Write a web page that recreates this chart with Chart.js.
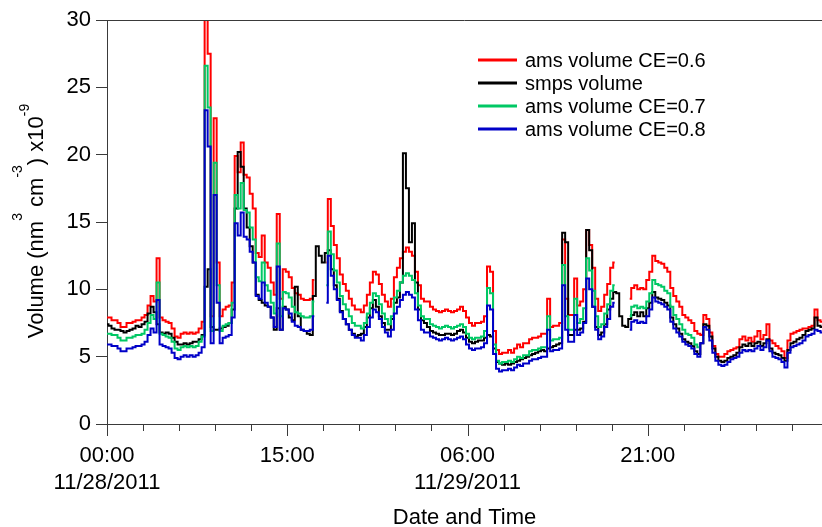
<!DOCTYPE html>
<html>
<head>
<meta charset="utf-8">
<script src="https://cdn.jsdelivr.net/npm/chart.js@4.4.1/dist/chart.umd.min.js"></script>
<style>
  html, body { margin: 0; padding: 0; background: #ffffff; }
  canvas { display: block; }
</style>
</head>
<body>
<canvas id="chart" width="822" height="527"></canvas>
<script>
// Hours since 11/28/2011 00:00 (15-minute samples)
const hours = [
  0,0.25,0.5,0.75,1,1.25,1.5,1.75,2,2.25,2.5,2.75,
  3,3.25,3.5,3.75,4,4.25,4.5,4.75,5,5.25,5.5,5.75,
  6,6.25,6.5,6.75,7,7.25,7.5,7.75,8,8.25,8.5,8.75,
  9,9.25,9.5,9.75,10,10.25,10.5,10.75,11,11.25,11.5,11.75,
  12,12.25,12.5,12.75,13,13.25,13.5,13.75,14,14.25,14.5,14.75,
  15,15.25,15.5,15.75,16,16.25,16.5,16.75,17,17.25,17.5,17.75,
  18,18.25,18.5,18.75,19,19.25,19.5,19.75,20,20.25,20.5,20.75,
  21,21.25,21.5,21.75,22,22.25,22.5,22.75,23,23.25,23.5,23.75,
  24,24.25,24.5,24.75,25,25.25,25.5,25.75,26,26.25,26.5,26.75,
  27,27.25,27.5,27.75,28,28.25,28.5,28.75,29,29.25,29.5,29.75,
  30,30.25,30.5,30.75,31,31.25,31.5,31.75,32,32.25,32.5,32.75,
  33,33.25,33.5,33.75,34,34.25,34.5,34.75,35,35.25,35.5,35.75,
  36,36.25,36.5,36.75,37,37.25,37.5,37.75,38,38.25,38.5,38.75,
  39,39.25,39.5,39.75,40,40.25,40.5,40.75,41,41.25,41.5,41.75,
  42,42.25,42.5,42.75,43,43.25,43.5,43.75,44,44.25,44.5,44.75,
  45,45.25,45.5,45.75,46,46.25,46.5,46.75,47,47.25,47.5,47.75,
  48,48.25,48.5,48.75,49,49.25,49.5,49.75,50,50.25,50.5,50.75,
  51,51.25,51.5,51.75,52,52.25,52.5,52.75,53,53.25,53.5,53.75,
  54,54.25,54.5,54.75,55,55.25,55.5,55.75,56,56.25,56.5,56.75,
  57,57.25,57.5,57.75,58,58.25,58.5,58.75,59,59.25,59.5
];

// AMS volume, collection efficiency 0.6
const amsCE06 = [
  7.9,7.9,7.7,7.7,7.5,7.2,7.2,7.5,7.5,7.6,7.7,7.7,
  7.9,8.1,8.8,9.5,9.1,12.3,7.9,7.7,7.6,7.5,7.1,6.5,
  6.4,6.7,6.8,6.7,6.8,6.7,6.8,7.1,7.6,31.1,27.5,8.0,
  22.7,12.0,8.0,8.5,8.7,8.8,10.5,19.9,18.7,20.9,18.5,18.3,
  17.1,16.0,12.7,12.4,14.0,12.0,11.6,10.5,9.6,15.6,9.3,11.5,
  11.3,10.9,10.1,9.7,9.6,9.3,9.2,9.2,9.3,10.7,null,null,
  null,12.0,16.7,14.7,13.3,12.3,11.1,10.4,9.9,9.3,8.8,8.5,
  8.5,8.3,8.8,9.6,10.5,11.3,11.1,10.4,9.6,9.1,8.7,9.3,
  10.9,11.6,12.3,12.8,13.1,12.8,12.5,11.3,10.3,9.3,9.1,9.1,
  8.7,8.5,8.4,8.3,8.4,8.5,8.4,8.3,8.4,8.5,8.7,8.4,
  7.9,7.5,7.3,7.5,7.5,7.6,8.0,11.7,11.3,6.9,5.5,5.2,
  5.3,5.3,5.5,5.3,5.6,5.9,5.7,6.0,6.0,6.3,6.4,6.4,
  6.5,6.7,6.7,9.3,7.2,7.3,7.3,7.5,13.7,9.3,8.1,8.1,
  10.8,8.8,9.1,10.0,14.4,13.3,11.6,9.3,8.4,8.7,9.6,10.4,
  11.6,12.0,null,null,null,null,9.3,10.1,10.3,10.0,10.1,10.0,
  10.7,11.3,12.5,12.1,12.0,11.9,11.6,11.3,10.1,9.5,9.1,8.7,
  8.1,7.9,7.7,7.5,6.9,6.7,6.6,8.1,7.8,6.8,5.8,5.2,
  5.0,5.0,5.2,5.4,5.5,5.6,5.7,6.3,6.5,6.2,6.4,6.1,
  6.5,6.9,6.3,6.6,7.4,6.2,6.0,5.8,5.6,5.4,4.9,6.2,
  6.7,6.8,6.9,7.0,7.1,7.1,7.2,7.3,8.5,7.7,7.6
];

// SMPS volume
const smps = [
  7.4,7.3,7.1,7.0,7.0,6.9,6.8,6.9,7.0,7.1,7.3,7.2,
  7.4,7.6,8.2,8.7,8.3,7.4,6.8,6.7,6.8,6.7,6.4,6.1,
  5.9,5.9,6.0,5.9,6.0,6.1,6.1,6.3,6.6,10.2,11.5,7.2,
  7.0,7.0,7.1,7.2,7.3,7.5,8.5,16.0,20.2,19.1,16.0,14.6,
  13.2,12.0,9.6,9.2,9.0,8.8,8.7,7.9,7.0,8.6,7.0,8.7,
  8.5,7.9,7.7,10.2,8.0,7.0,6.9,6.7,6.6,9.5,13.2,12.5,
  12.0,12.7,12.9,11.5,10.3,9.3,8.4,7.8,7.4,7.0,6.7,6.5,
  6.6,6.7,7.2,7.9,8.6,9.2,8.7,8.0,7.5,7.0,7.0,7.8,
  9.0,9.4,10.5,20.1,17.5,13.5,14.9,10.5,8.5,7.7,7.5,7.2,
  6.9,6.8,6.7,6.6,6.6,6.7,6.7,6.6,6.7,6.9,7.0,6.8,
  6.4,6.1,6.0,6.1,6.2,6.2,6.4,6.6,6.5,5.6,4.6,4.5,
  4.4,4.5,4.4,4.5,4.6,4.7,4.8,4.9,5.0,5.1,5.2,5.3,
  5.4,5.5,5.4,5.6,5.7,5.8,5.9,6.0,14.2,13.5,6.6,6.6,
  7.0,7.0,7.1,7.6,14.4,12.9,8.7,7.2,6.6,6.8,7.4,8.5,
  9.3,9.8,9.7,8.0,7.3,7.2,7.8,8.1,8.3,8.0,8.3,8.0,
  8.6,9.0,9.8,9.4,9.3,9.2,9.0,8.8,7.9,7.4,7.1,6.7,
  6.3,6.1,6.0,5.8,5.4,5.2,6.0,7.4,7.3,6.5,5.6,5.0,
  4.7,4.6,4.7,4.9,5.0,5.1,5.3,5.7,5.9,5.8,6.0,5.8,
  6.0,6.1,5.8,6.0,6.3,5.6,5.3,5.2,5.1,4.9,4.7,5.5,
  6.0,6.1,6.3,6.4,6.6,6.9,7.0,7.1,7.9,7.3,7.2
];

// AMS volume, collection efficiency 0.7
const amsCE07 = [
  6.7,6.7,6.6,6.6,6.4,6.2,6.2,6.4,6.4,6.5,6.6,6.6,
  6.7,7.0,7.5,8.1,7.8,10.5,6.7,6.6,6.5,6.4,6.1,5.6,
  5.5,5.7,5.8,5.7,5.8,5.7,5.8,6.1,6.5,26.6,23.5,6.9,
  19.4,10.3,6.9,7.3,7.4,7.5,9.0,17.0,16.0,17.9,15.9,15.7,
  14.6,13.7,10.9,10.6,12.0,10.3,9.9,9.0,8.2,13.4,8.0,9.8,
  9.7,9.4,8.7,8.3,8.2,8.0,7.9,7.9,8.0,9.1,null,null,
  null,10.3,14.3,12.6,11.4,10.5,9.5,8.9,8.5,8.0,7.5,7.3,
  7.3,7.1,7.5,8.2,9.0,9.7,9.5,8.9,8.2,7.8,7.4,8.0,
  9.4,9.9,10.5,11.0,11.2,11.0,10.7,9.7,8.8,8.0,7.8,7.8,
  7.4,7.3,7.2,7.1,7.2,7.3,7.2,7.1,7.2,7.3,7.4,7.2,
  6.7,6.4,6.3,6.4,6.4,6.5,6.9,10.1,9.7,5.9,4.7,4.5,
  4.6,4.6,4.7,4.6,4.8,5.0,4.9,5.1,5.1,5.4,5.5,5.5,
  5.6,5.7,5.7,8.0,6.2,6.3,6.3,6.4,11.8,8.0,7.0,7.0,
  9.3,7.5,7.8,8.6,12.3,11.4,9.9,8.0,7.2,7.4,8.2,8.9,
  9.9,10.3,null,null,null,null,8.0,8.7,8.8,8.6,8.7,8.6,
  9.1,9.7,10.7,10.4,10.3,10.2,9.9,9.7,8.7,8.1,7.8,7.4,
  7.0,6.7,6.6,6.4,5.9,5.7,null,null,null,null,null,null,
  null,null,null,null,null,null,null,null,null,null,null,null,
  null,null,null,null,null,null,null,null,null,null,null,null,
  null,null,null,null,null,null,null,null,null,null,null
];

// AMS volume, collection efficiency 0.8
const amsCE08 = [
  5.9,5.9,5.8,5.8,5.6,5.4,5.4,5.6,5.6,5.7,5.8,5.8,
  5.9,6.1,6.6,7.1,6.8,9.2,5.9,5.8,5.7,5.6,5.3,4.9,
  4.8,5.0,5.1,5.0,5.1,5.0,5.1,5.3,5.7,23.3,20.6,6.0,
  17.0,9.0,6.0,6.4,6.5,6.6,7.9,14.9,14.0,15.7,13.9,13.7,
  12.8,12.0,9.5,9.3,10.5,9.0,8.7,7.9,7.2,11.7,7.0,8.6,
  8.5,8.2,7.6,7.3,7.2,7.0,6.9,6.9,7.0,8.0,null,null,
  null,9.0,12.5,11.0,10.0,9.2,8.3,7.8,7.4,7.0,6.6,6.4,
  6.4,6.2,6.6,7.2,7.9,8.5,8.3,7.8,7.2,6.8,6.5,7.0,
  8.2,8.7,9.2,9.6,9.8,9.6,9.4,8.5,7.7,7.0,6.8,6.8,
  6.5,6.4,6.3,6.2,6.3,6.4,6.3,6.2,6.3,6.4,6.5,6.3,
  5.9,5.6,5.5,5.6,5.6,5.7,6.0,8.8,8.5,5.2,4.1,3.9,
  4.0,4.0,4.1,4.0,4.2,4.4,4.3,4.5,4.5,4.7,4.8,4.8,
  4.9,5.0,5.0,7.0,5.4,5.5,5.5,5.6,10.3,7.0,6.1,6.1,
  8.1,6.6,6.8,7.5,10.8,10.0,8.7,7.0,6.3,6.5,7.2,7.8,
  8.7,9.0,null,null,null,null,7.0,7.6,7.7,7.5,7.6,7.5,
  8.0,8.5,9.4,9.1,9.0,8.9,8.7,8.5,7.6,7.1,6.8,6.5,
  6.1,5.9,5.8,5.6,5.2,5.0,6.0,7.2,7.0,6.2,5.3,4.7,
  4.4,4.3,4.4,4.6,4.8,4.9,5.0,5.3,5.5,5.4,5.5,5.4,
  5.6,5.8,5.5,5.7,6.2,5.4,5.0,4.9,4.8,4.6,4.2,5.3,
  5.7,5.8,5.9,6.0,6.2,6.5,6.6,6.7,7.0,6.9,6.8
];

const seriesLabels = ['ams volume CE=0.6', 'smps volume', 'ams volume CE=0.7', 'ams volume CE=0.8'];
const seriesColors = ['#ff0000', '#000000', '#00c864', '#0000c8'];

// Axis ticks: a mark every 3 hours, labels every 15 hours
const tickHours = [0,3,6,9,12,15,18,21,24,27,30,33,36,39,42,45,48,51,54,57];
const majorTickHours = [0, 15, 30, 45];
const majorTimeLabels = ['00:00', '15:00', '06:00', '21:00'];
const majorDateLabels = ['11/28/2011', '', '11/29/2011', ''];
const volumeTicks = [0, 5, 10, 15, 20, 25, 30];

const FONT = "'Liberation Sans', Arial, sans-serif";
const AXIS_COLOR = '#3a3a3a';

function toPoints(values) {
  return hours.map((h, i) => ({ x: h, y: values[i] === undefined ? null : values[i] }));
}

const seriesValues = [amsCE06, smps, amsCE07, amsCE08];
const drawOrder = [3, 2, 1, 0];   // blue on top, red at the bottom

// Minor / major tick marks on the time axis and the top frame line
const frameAndTicks = {
  id: 'frameAndTicks',
  afterDraw(chart) {
    const { ctx, chartArea } = chart;
    const xs = chart.scales.x;
    ctx.save();
    ctx.strokeStyle = AXIS_COLOR;
    ctx.lineWidth = 1;
    ctx.beginPath();
    ctx.moveTo(chartArea.left, chartArea.top + 0.5);
    ctx.lineTo(chartArea.right, chartArea.top + 0.5);
    tickHours.forEach(h => {
      const px = Math.round(xs.getPixelForValue(h)) + 0.5;
      const len = majorTickHours.includes(h) ? 12 : 7;
      ctx.moveTo(px, chartArea.bottom);
      ctx.lineTo(px, chartArea.bottom + len);
    });
    ctx.stroke();
    ctx.restore();
  }
};

// Legend drawn inside the plot area
const insideLegend = {
  id: 'insideLegend',
  afterDraw(chart) {
    const { ctx } = chart;
    ctx.save();
    ctx.font = '20px ' + FONT;
    ctx.textBaseline = 'middle';
    ctx.textAlign = 'left';
    chart.data.datasets.forEach((ds, i) => {
      const y = 60 + i * 23;
      ctx.strokeStyle = ds.borderColor;
      ctx.lineWidth = 3;
      ctx.beginPath();
      ctx.moveTo(478, y);
      ctx.lineTo(517, y);
      ctx.stroke();
      ctx.fillStyle = '#000';
      ctx.fillText(ds.label, 525, y + 1);
    });
    ctx.restore();
  }
};

// Rotated y-axis title with superscripts
const yAxisTitle = {
  id: 'yAxisTitle',
  afterDraw(chart) {
    const { ctx, chartArea } = chart;
    const parts = [
      { t: 'Volume (nm', sup: false },
      { t: '3', sup: true, raise: 21 },
      { t: ' cm', sup: false },
      { t: '-3', sup: true, raise: 21 },
      { t: ') x10', sup: false },
      { t: '-9', sup: true, raise: 14 }
    ];
    const mainFont = '22px ' + FONT;
    const supFont = '14px ' + FONT;
    ctx.save();
    let total = 0;
    parts.forEach(p => {
      ctx.font = p.sup ? supFont : mainFont;
      p.w = ctx.measureText(p.t).width;
      total += p.w;
    });
    ctx.translate(43, (chartArea.top + chartArea.bottom) / 2 - 1);
    ctx.rotate(-Math.PI / 2);
    ctx.fillStyle = '#000';
    ctx.textBaseline = 'alphabetic';
    ctx.textAlign = 'left';
    let x = -total / 2;
    parts.forEach(p => {
      ctx.font = p.sup ? supFont : mainFont;
      ctx.fillText(p.t, x, p.sup ? -p.raise : 0);
      x += p.w;
    });
    ctx.restore();
  }
};

new Chart(document.getElementById('chart'), {
  type: 'line',
  data: {
    datasets: seriesValues.map((vals, i) => ({
      label: seriesLabels[i],
      data: toPoints(vals),
      borderColor: seriesColors[i],
      backgroundColor: seriesColors[i],
      borderWidth: 2,
      pointRadius: 0,
      stepped: 'middle',
      spanGaps: false,
      order: drawOrder[i]
    }))
  },
  options: {
    responsive: false,
    animation: false,
    devicePixelRatio: 1,
    layout: { padding: { top: 20, left: 0, right: 0, bottom: 0 } },
    plugins: { legend: { display: false }, tooltip: { enabled: false } },
    scales: {
      x: {
        type: 'linear',
        min: 0,
        max: 59.5,
        afterFit(scale) { scale.height = 103; },
        afterBuildTicks(scale) { scale.ticks = tickHours.map(v => ({ value: v })); },
        grid: {
          display: true, drawOnChartArea: false, drawTicks: true, tickLength: 12,
          color: 'rgba(0,0,0,0)', tickColor: 'rgba(0,0,0,0)'
        },
        border: { display: true, color: AXIS_COLOR, width: 1 },
        ticks: {
          autoSkip: false, maxRotation: 0, minRotation: 0, padding: 6, color: '#000',
          font: { family: FONT, size: 22, lineHeight: 1.23 },
          callback(v) {
            const i = majorTickHours.indexOf(v);
            if (i < 0) return '';
            return majorDateLabels[i] ? [majorTimeLabels[i], majorDateLabels[i]] : majorTimeLabels[i];
          }
        },
        title: {
          display: true, text: 'Date and Time', color: '#000', padding: 0,
          font: { family: FONT, size: 22, lineHeight: 0.85 }
        }
      },
      y: {
        min: 0,
        max: 30,
        afterFit(scale) { scale.width = 107; },
        afterBuildTicks(scale) { scale.ticks = volumeTicks.map(v => ({ value: v })); },
        grid: { drawOnChartArea: false, drawTicks: true, tickLength: 11, tickColor: AXIS_COLOR, tickWidth: 1 },
        border: { display: true, color: AXIS_COLOR, width: 1 },
        ticks: { padding: 5, color: '#000', font: { family: FONT, size: 22 } },
        title: { display: false }
      }
    }
  },
  plugins: [frameAndTicks, insideLegend, yAxisTitle]
});
</script>
</body>
</html>
